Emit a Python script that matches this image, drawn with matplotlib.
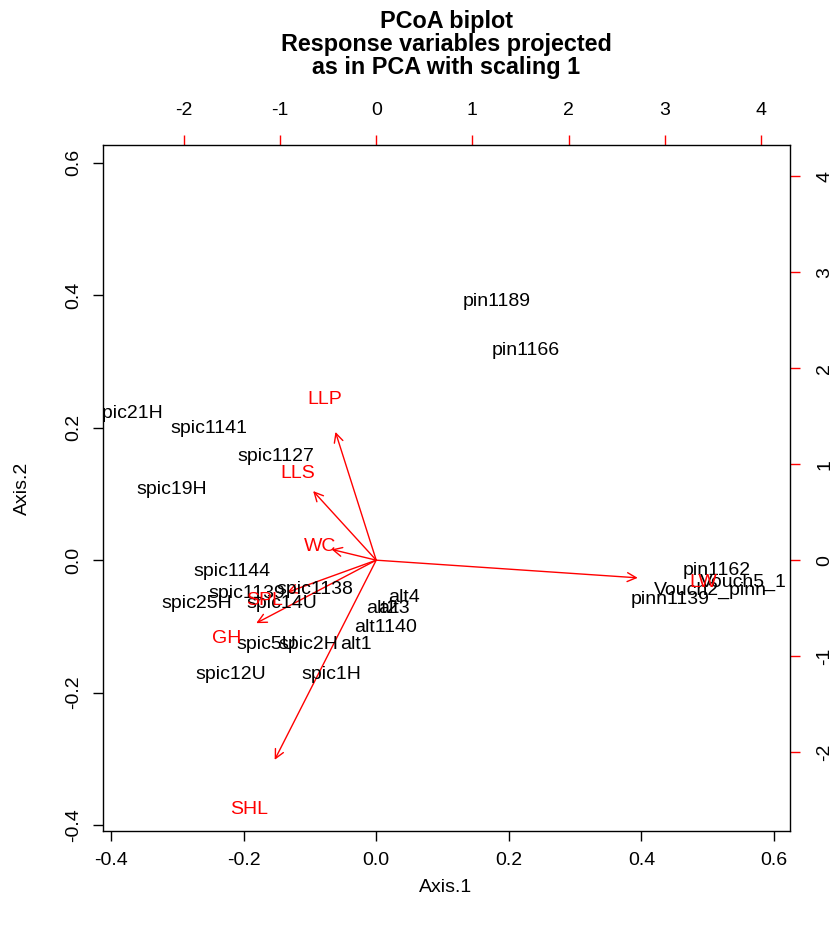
"""PCoA biplot — sites as text, response variables as arrows (scaling 1)."""

import matplotlib
matplotlib.use("Agg")
import matplotlib.pyplot as plt
import matplotlib.ticker as ticker
from matplotlib.patches import FancyArrowPatch

plt.rcParams["font.family"] = ["Liberation Sans", "DejaVu Sans"]
plt.rcParams["axes.unicode_minus"] = False

# ---------------------------------------------------------------------------
# Data
# ---------------------------------------------------------------------------

site_names = [
    "pin1189", "pin1166", "spic21H", "spic1141", "spic1127", "spic19H",
    "spic1144", "spic1139", "spic1138", "spic25H", "spic14U", "spic5U",
    "spic2H", "alt1", "spic12U", "spic1H", "alt4", "alt2", "alt3",
    "alt1140", "pin1162", "Vouch5_1", "Vouch2_pinn", "pinn1139",
]
site_x = [
    0.181, 0.225, -0.374, -0.253, -0.151, -0.309,
    -0.217, -0.195, -0.093, -0.271, -0.142, -0.166,
    -0.102, -0.030, -0.220, -0.068, 0.042, 0.009, 0.026,
    0.014, 0.513, 0.554, 0.504, 0.443,
]
site_y = [
    0.390, 0.316, 0.222, 0.199, 0.156, 0.107,
    -0.017, -0.050, -0.044, -0.065, -0.065, -0.128,
    -0.128, -0.128, -0.172, -0.172, -0.056, -0.073, -0.073,
    -0.101, -0.015, -0.033, -0.045, -0.060,
]

# variable scores, in the units of the top / right axes
var_names = ["LLP", "LLS", "WC", "SPL", "GH", "SHL", "LW"]
var_x = [-0.53, -0.82, -0.58, -1.16, -1.56, -1.32, 3.40]
var_y = [1.67, 0.90, 0.14, -0.42, -0.82, -2.60, -0.23]

# top/right axis unit expressed in bottom/left axis units
ARROW_SCALE = 0.145

xticks_main = [-0.4, -0.2, 0.0, 0.2, 0.4, 0.6]
yticks_main = [-0.4, -0.2, 0.0, 0.2, 0.4, 0.6]
ticks_var = [-2, -1, 0, 1, 2, 3, 4]

RED = "#FF0000"
FS = 14


def main():
    W, H = 834, 926
    fig = plt.figure(figsize=(W / 100, H / 100), dpi=100)
    left, right, top, bottom = 103, 790, 145, 831
    ax = fig.add_axes([left / W, 1 - bottom / H, (right - left) / W, (bottom - top) / H])

    ax.set_xlim(-0.412, 0.624)
    ax.set_ylim(-0.409, 0.627)

    for n, x, y in zip(site_names, site_x, site_y):
        ax.text(x, y, n, ha="center", va="center", fontsize=FS,
                color="black", clip_on=True)

    for n, x, y in zip(var_names, var_x, var_y):
        tip = (0.8 * x * ARROW_SCALE, 0.8 * y * ARROW_SCALE)
        ax.add_patch(FancyArrowPatch((0, 0), tip, arrowstyle="->",
                                     mutation_scale=16, color=RED, lw=1.0,
                                     shrinkA=0, shrinkB=0))
        ax.text(x * ARROW_SCALE, y * ARROW_SCALE, n, ha="center", va="center",
                fontsize=FS, color=RED, clip_on=True)

    # main axes
    ax.set_xticks(xticks_main)
    ax.set_yticks(yticks_main)
    ax.xaxis.set_major_formatter(ticker.FormatStrFormatter("%.1f"))
    ax.yaxis.set_major_formatter(ticker.FormatStrFormatter("%.1f"))
    ax.tick_params(direction="out", length=7, width=1, labelsize=FS, pad=8)
    for lab in ax.get_yticklabels():
        lab.set_rotation(90)
        lab.set_va("center")
    for s in ax.spines.values():
        s.set_linewidth(1.0)

    # arrow axes (top, right)
    secx = ax.secondary_xaxis("top", functions=(lambda v: v / ARROW_SCALE,
                                                lambda v: v * ARROW_SCALE))
    secx.set_xticks(ticks_var)
    secx.tick_params(direction="out", length=7, width=1, color=RED,
                     labelcolor="black", labelsize=FS, pad=12)
    secx.spines["top"].set_visible(False)

    secy = ax.secondary_yaxis("right", functions=(lambda v: v / ARROW_SCALE,
                                                  lambda v: v * ARROW_SCALE))
    secy.set_yticks(ticks_var)
    secy.tick_params(direction="out", length=7, width=1, color=RED,
                     labelcolor="black", labelsize=FS, pad=12)
    secy.spines["right"].set_visible(False)
    for lab in secy.get_yticklabels():
        lab.set_rotation(90)
        lab.set_va("center")

    fig.text(446 / W, 1 - 887 / H, "Axis.1", ha="center", va="center", fontsize=FS)
    fig.text(22 / W, 1 - 488 / H, "Axis.2", ha="center", va="center",
             fontsize=FS, rotation=90)
    fig.text(446 / W, 1 - 10 / H,
             "PCoA biplot\nResponse variables projected\nas in PCA with scaling 1",
             ha="center", va="top", fontsize=16.8, fontweight="bold",
             linespacing=1.0)

    fig.savefig("out.png", dpi=100)
    plt.close(fig)


if __name__ == "__main__":
    main()
